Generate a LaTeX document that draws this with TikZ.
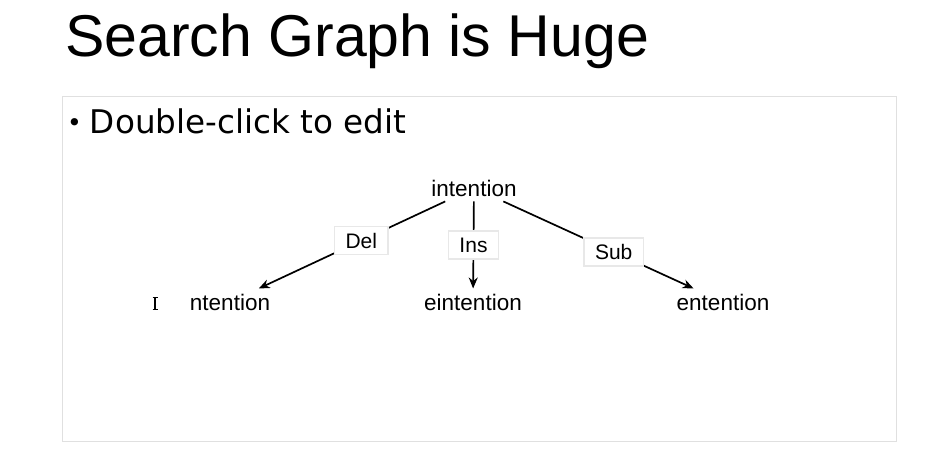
\documentclass[tikz,border=0pt]{standalone}
\usepackage{fontspec}
\setmainfont{Liberation Sans}
\newfontfamily\bulletfont{DejaVu Sans}
\usetikzlibrary{arrows.meta}
\tikzset{
  word/.style={inner sep=5pt, font=\fontsize{22.5}{24}\selectfont},
  oplabel/.style={draw=black!9, fill=white, inner xsep=11pt, inner ysep=0pt, minimum height=28pt, font=\fontsize{21}{24}\selectfont},
  edgeline/.style={line width=1.7pt, -{Stealth[length=11pt,width=9pt]}},
}
\begin{document}
\begin{tikzpicture}[x=1pt,y=-1pt]
\useasboundingbox (0,0) rectangle (934,460);
\fill[white] (0,0) rectangle (934,460);
% title
\node[anchor=base west, inner sep=0pt, font=\fontsize{59}{60}\selectfont] (title) at (65,57) {Search Graph is Huge};
% content frame
\draw[black!12, line width=1pt] (62,96) rectangle (896,441);
\node[anchor=base west, inner sep=0pt, font=\bulletfont\fontsize{32.6}{34}\selectfont] (bullet) at (67,133) {\raisebox{2pt}{\fontsize{25}{26}\selectfont •}\hspace{8pt}Double-click to edit};
% tree
\node[word, anchor=base] (root) at (474,196) {intention};
\node[word, anchor=base] (del) at (230,310) {ntention};
\node[word, anchor=base] (ins) at (473,310) {eintention};
\node[word, anchor=base] (sub) at (723,310) {entention};
\draw[edgeline] (root) -- node[oplabel, pos=0.45] (dellab) {Del} (del);
\draw[edgeline] (root) -- node[oplabel, pos=0.5] (inslab) {Ins} (ins);
\draw[edgeline] (root) -- node[oplabel, pos=0.58] (sublab) {Sub} (sub);
% text cursor
\draw[line width=1.8pt] (155,297.5) -- (155,309.5);
\draw[line width=1.2pt] (152.5,297.5) -- (157.5,297.5) (152.5,309.5) -- (157.5,309.5);
\end{tikzpicture}
\end{document}
